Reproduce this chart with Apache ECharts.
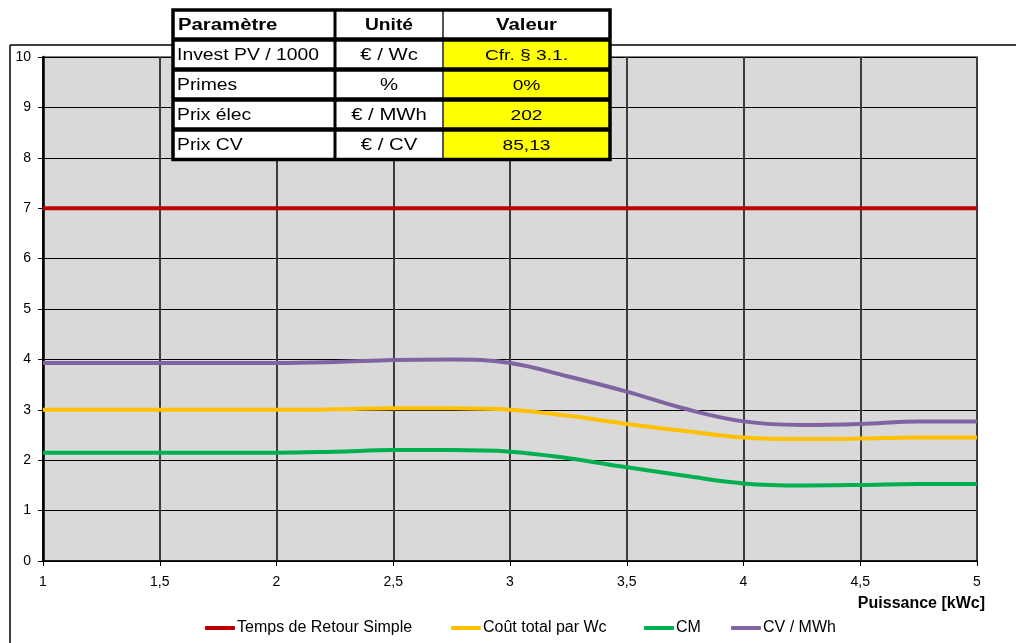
<!DOCTYPE html>
<html>
<head>
<meta charset="utf-8">
<script src="https://cdn.jsdelivr.net/npm/echarts@6/dist/echarts.min.js"></script>
<style>
html,body{margin:0;padding:0;background:#fff;}
#chart{width:1016px;height:643px;}
</style>
</head>
<body>
<div id="chart"></div>
<script>
// ---- Data ----
const puissance = [1, 1.5, 2, 2.25, 2.5, 2.75, 3, 3.25, 3.5, 3.75, 4, 4.25, 4.5, 4.75, 5];
const seriesNames = ['Temps de Retour Simple', 'Coût total par Wc', 'CM', 'CV / MWh'];
const tempsRetour = [7, 7, 7, 7, 7, 7, 7, 7, 7, 7, 7, 7, 7, 7, 7];
const coutTotal = [3.0, 3.0, 3.0, 3.01, 3.03, 3.03, 3.0, 2.88, 2.72, 2.58, 2.45, 2.42, 2.43, 2.45, 2.45];
const cm = [2.15, 2.15, 2.15, 2.17, 2.2, 2.2, 2.17, 2.04, 1.86, 1.69, 1.54, 1.5, 1.51, 1.53, 1.53];
const cvMwh = [3.93, 3.93, 3.93, 3.95, 3.99, 4.0, 3.93, 3.66, 3.36, 3.02, 2.77, 2.7, 2.72, 2.77, 2.77];
const xAxisTitle = 'Puissance [kWc]';

const tableHeader = ['Paramètre', 'Unité', 'Valeur'];
const tableParams = ['Invest PV / 1000', 'Primes', 'Prix élec', 'Prix CV'];
const tableUnits = ['€ / Wc', '%', '€ / MWh', '€ / CV'];
const tableValues = ['Cfr. § 3.1.', '0%', '202', '85,13'];

// ---- Styling ----
const FONT = "'Liberation Sans', Arial, sans-serif";
const colors = ['#c00000', '#ffc000', '#00b050', '#8064a2'];
const allSeries = [tempsRetour, coutTotal, cm, cvMwh];
const legendLefts = [205, 451, 644, 731];

// Table graphic
const T = {left: 173, right: 610, top: 10, rowH: 30, headH: 29.5, c1: 335, c2: 443};
const tableEls = [];
const rowTops = [T.top];
let yy = T.top + T.headH;
for (let i = 0; i < tableParams.length; i++) { rowTops.push(yy); yy += T.rowH; }
const bottom = yy;
tableEls.push({type: 'rect', shape: {x: T.left, y: T.top, width: T.right - T.left, height: bottom - T.top}, style: {fill: '#fff'}});
for (let i = 0; i < tableValues.length; i++) {
  tableEls.push({type: 'rect', shape: {x: T.c2, y: rowTops[i + 1], width: T.right - T.c2, height: T.rowH}, style: {fill: '#ffff00'}});
}
tableEls.push({type: 'line', shape: {x1: T.c1, y1: T.top, x2: T.c1, y2: bottom}, style: {stroke: '#000', lineWidth: 3}});
tableEls.push({type: 'line', shape: {x1: T.c2, y1: T.top, x2: T.c2, y2: bottom}, style: {stroke: '#555', lineWidth: 2}});
for (let i = 1; i < rowTops.length; i++) {
  tableEls.push({type: 'line', shape: {x1: T.left, y1: rowTops[i], x2: T.right, y2: rowTops[i]}, style: {stroke: '#000', lineWidth: 4.5}});
}
tableEls.push({type: 'rect', shape: {x: T.left, y: T.top, width: T.right - T.left, height: bottom - T.top}, style: {fill: null, stroke: '#000', lineWidth: 3.5}});
function txt(s, x, y, align, font, sx) {
  return {type: 'text', x: x, y: y, scaleX: sx, style: {text: s, x: 0, y: 0, verticalAlign: 'middle', align: align, font: font, fill: '#000'}};
}
const colCenters = [(T.c1 + T.c2) / 2, (T.c2 + T.right) / 2];
const hy = T.top + T.headH / 2 + 1;
tableEls.push(txt(tableHeader[0], T.left + 5, hy, 'left', 'bold 16px ' + FONT, 1.27));
tableEls.push(txt(tableHeader[1], colCenters[0], hy, 'center', 'bold 16px ' + FONT, 1.2));
tableEls.push(txt(tableHeader[2], colCenters[1], hy, 'center', 'bold 16px ' + FONT, 1.27));
for (let i = 0; i < tableParams.length; i++) {
  const cy = rowTops[i + 1] + T.rowH / 2 + 1;
  tableEls.push(txt(tableParams[i], T.left + 4, cy, 'left', '16px ' + FONT, 1.21));
  tableEls.push(txt(tableUnits[i], colCenters[0], cy, 'center', '16px ' + FONT, 1.27));
  tableEls.push(txt(tableValues[i], colCenters[1], cy, 'center', '15px ' + FONT, 1.28));
}
tableEls.forEach(e => { e.z = 100; });

const chart = echarts.init(document.getElementById('chart'), null, {renderer: 'canvas'});
const option = {
  backgroundColor: '#fff',
  animation: false,
  textStyle: {fontFamily: FONT},
  grid: {left: 43, right: 39, top: 57, bottom: 82, show: true, backgroundColor: '#d9d9d9', borderColor: '#555', borderWidth: 1.5, containLabel: false},
  legend: seriesNames.map((n, i) => ({
    data: [n],
    left: legendLefts[i], top: 620, padding: 0,
    icon: 'roundRect', itemWidth: 30, itemHeight: 4,
    textStyle: {fontSize: 16, color: '#000', fontFamily: FONT, padding: [0, 0, 0, -3]}
  })),
  xAxis: {
    type: 'value', min: 1, max: 5, interval: 0.5,
    axisLine: {show: true, onZero: false, lineStyle: {color: '#000', width: 1.5}},
    axisTick: {show: true, length: 5, lineStyle: {color: '#000', width: 1}},
    axisLabel: {fontSize: 14, color: '#000', margin: 14, formatter: v => String(v).replace('.', ',')},
    splitLine: {show: true, lineStyle: {color: '#3c3c3c', width: 2}}
  },
  yAxis: {
    type: 'value', min: 0, max: 10, interval: 1,
    axisLine: {show: true, lineStyle: {color: '#000', width: 2.5}},
    axisTick: {show: true, length: 5, lineStyle: {color: '#000', width: 1}},
    axisLabel: {fontSize: 14, color: '#000', margin: 12},
    splitLine: {show: true, lineStyle: {color: '#000', width: 1}}
  },
  series: seriesNames.map((n, i) => ({
    name: n, type: 'line', smooth: 0.4, showSymbol: false, symbol: 'none',
    data: puissance.map((x, j) => [x, allSeries[i][j]]),
    lineStyle: {color: colors[i], width: 4},
    itemStyle: {color: colors[i]},
    z: 3
  })),
  graphic: [
    {type: 'line', z: 0, shape: {x1: 10, y1: 45, x2: 1016, y2: 45}, style: {stroke: '#000', lineWidth: 1.5}},
    {type: 'line', z: 0, shape: {x1: 10, y1: 45, x2: 10, y2: 643}, style: {stroke: '#000', lineWidth: 1.5}},
    {type: 'text', style: {text: xAxisTitle, x: 985, y: 604, align: 'right', verticalAlign: 'middle', font: 'bold 16px ' + FONT, fill: '#000'}}
  ].concat(tableEls)
};
chart.setOption(option);
</script>
</body>
</html>
